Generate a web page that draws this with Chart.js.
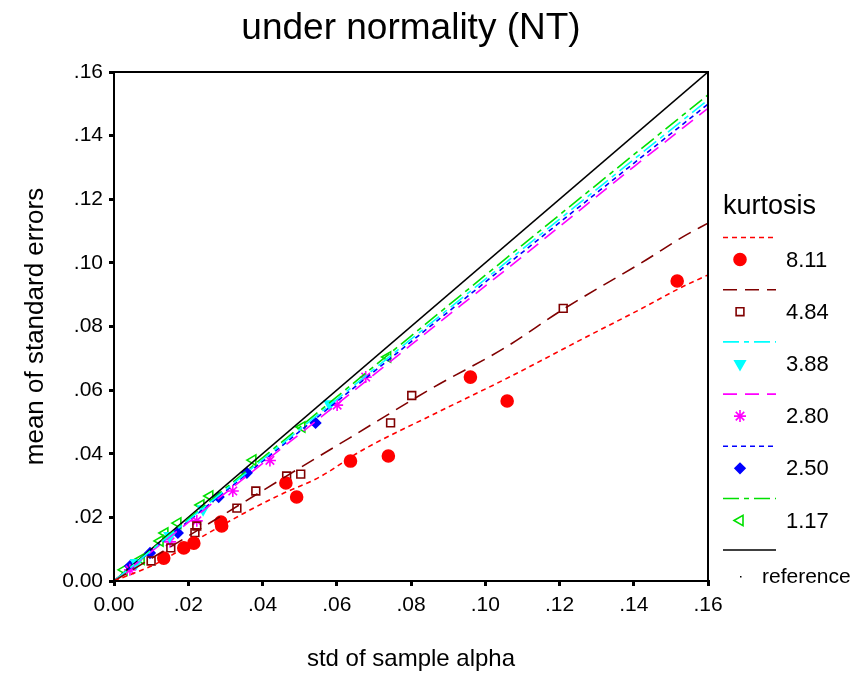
<!DOCTYPE html>
<html>
<head>
<meta charset="utf-8">
<script src="https://cdn.jsdelivr.net/npm/chart.js@4.4.1/dist/chart.umd.min.js"></script>
<style>
  html, body { margin: 0; padding: 0; background: #fff; }
  #wrap { width: 854px; height: 689px; }
</style>
</head>
<body>
<div id="wrap"><canvas id="chart"></canvas></div>
<script>
// DATA
const chartTitle = "under normality (NT)";
const xTitle = "std of sample alpha";
const yTitle = "mean of standard errors";
const legendTitle = "kurtosis";
const kurtLabels = ["8.11", "4.84", "3.88", "2.80", "2.50", "1.17"];
const tickValues = [0, 0.02, 0.04, 0.06, 0.08, 0.10, 0.12, 0.14, 0.16];

// scatter points per kurtosis group
const k811X = [0.0134, 0.0188, 0.0215, 0.0288, 0.0290, 0.0463, 0.0492, 0.0637, 0.0739, 0.0960, 0.1059, 0.1517];
const k811Y = [0.0072, 0.0104, 0.0119, 0.0185, 0.0173, 0.0308, 0.0264, 0.0377, 0.0393, 0.0641, 0.0566, 0.0943];
const k484X = [0.0100, 0.0153, 0.0218, 0.0223, 0.0331, 0.0382, 0.0465, 0.0503, 0.0745, 0.0802, 0.1210];
const k484Y = [0.0063, 0.0104, 0.0152, 0.0173, 0.0229, 0.0283, 0.0330, 0.0336, 0.0497, 0.0583, 0.0857];
const k388X = [0.0060, 0.0150, 0.0240, 0.0581];
const k388Y = [0.0057, 0.0142, 0.0226, 0.0556];
const k280X = [0.0043, 0.0151, 0.0223, 0.0320, 0.0420, 0.0601, 0.0678];
const k280Y = [0.0035, 0.0123, 0.0189, 0.0283, 0.0379, 0.0553, 0.0641];
const k250X = [0.0043, 0.0097, 0.0172, 0.0282, 0.0358, 0.0543];
const k250Y = [0.0047, 0.0088, 0.0151, 0.0264, 0.0340, 0.0497];
const k117X = [0.0027, 0.0073, 0.0124, 0.0137, 0.0172, 0.0234, 0.0258, 0.0374, 0.0506, 0.0737];
const k117Y = [0.0035, 0.0069, 0.0126, 0.0151, 0.0182, 0.0239, 0.0267, 0.0380, 0.0484, 0.0704];

// fitted lines
const fit811X = [0, 0.0118, 0.0231, 0.0366, 0.0446, 0.0554, 0.0670, 0.0868, 0.1065, 0.1272, 0.1414, 0.1530, 0.16];
const fit811Y = [0, 0.0057, 0.0135, 0.0223, 0.0270, 0.0327, 0.0412, 0.0528, 0.0641, 0.0767, 0.0852, 0.0924, 0.0962];
const fit484X = [0, 0.0280, 0.0500, 0.0635, 0.0858, 0.1057, 0.1207, 0.1433, 0.1531, 0.16];
const fit484Y = [0, 0.0198, 0.0355, 0.0450, 0.0607, 0.0736, 0.0852, 0.1009, 0.1081, 0.1125];
const fitX = [0, 0.02, 0.05, 0.08, 0.11, 0.14, 0.16];
const fit388Y = [0, 0.0191, 0.0476, 0.0760, 0.1043, 0.1325, 0.1512];
const fit280Y = [0, 0.0184, 0.0462, 0.0742, 0.1020, 0.1302, 0.1486];
const fit250Y = [0, 0.0188, 0.0470, 0.0752, 0.1033, 0.1313, 0.1499];
const fit117Y = [0, 0.0195, 0.0483, 0.0770, 0.1056, 0.1340, 0.1528];
const refX = [0, 0.16];
const refY = [0, 0.16];

const FONT = "'Liberation Sans', Arial, sans-serif";
Chart.defaults.font.family = FONT;
Chart.defaults.color = "#000";

function pts(xs, ys) {
    return xs.map((x, i) => ({ x: x, y: ys[i] }));
}

// one style per group: line colour, dash, marker
const groups = [
    { color: "#ff0000", dash: [5, 4], fx: fit811X, fy: fit811Y, px: k811X, py: k811Y,
      point: { pointStyle: "circle", radius: 6, bg: "#ff0000", rot: 0 } },
    { color: "#800000", dash: [14, 8], fx: fit484X, fy: fit484Y, px: k484X, py: k484Y,
      point: { pointStyle: "rect", radius: 5.5, bg: "rgba(0,0,0,0)", rot: 0 } },
    { color: "#00ffff", dash: [16, 5, 5, 5], fx: fitX, fy: fit388Y, px: k388X, py: k388Y,
      point: { pointStyle: "triangle", radius: 6, bg: "#00ffff", rot: 180 } },
    { color: "#ff00ff", dash: [14, 8], fx: fitX, fy: fit280Y, px: k280X, py: k280Y,
      point: { pointStyle: "star", radius: 6, bg: "rgba(0,0,0,0)", rot: 0 } },
    { color: "#0000ff", dash: [5, 4], fx: fitX, fy: fit250Y, px: k250X, py: k250Y,
      point: { pointStyle: "rectRot", radius: 5, bg: "#0000ff", rot: 0 } },
    { color: "#00e000", dash: [16, 5, 5, 5], fx: fitX, fy: fit117Y, px: k117X, py: k117Y,
      point: { pointStyle: "triangle", radius: 6, bg: "rgba(0,0,0,0)", rot: 270 } },
];

const datasets = [];
groups.forEach((g, i) => {
    datasets.push({
        label: kurtLabels[i] + " fit",
        data: pts(g.fx, g.fy),
        showLine: true,
        borderColor: g.color,
        borderWidth: 1.6,
        borderDash: g.dash,
        pointRadius: 0,
        cubicInterpolationMode: "monotone",
    });
});
datasets.push({
    label: "reference",
    data: pts(refX, refY),
    showLine: true,
    borderColor: "#000",
    borderWidth: 1.6,
    pointRadius: 0,
});
groups.forEach((g, i) => {
    datasets.push({
        label: kurtLabels[i],
        data: pts(g.px, g.py),
        showLine: false,
        pointStyle: g.point.pointStyle,
        pointRadius: g.point.radius,
        pointRotation: g.point.rot,
        pointBackgroundColor: g.point.bg,
        pointBorderColor: g.color,
        pointBorderWidth: 1.6,
    });
});

function tickText(v) {
    if (Math.abs(v) < 1e-9) return "0.00";
    return "." + Math.round(v * 100).toString().padStart(2, "0");
}

// frame, title and custom legend
const extras = {
    id: "extras",
    afterDraw(chart) {
        const { ctx, chartArea: a } = chart;
        ctx.save();
        ctx.strokeStyle = "#000";
        ctx.lineWidth = 2;
        ctx.strokeRect(a.left, a.top, a.right - a.left, a.bottom - a.top);

        ctx.fillStyle = "#000";
        ctx.textAlign = "center";
        ctx.textBaseline = "middle";
        ctx.font = "37px " + FONT;
        ctx.fillText(chartTitle, (a.left + a.right) / 2, 29);

        // legend
        ctx.textAlign = "left";
        ctx.font = "27px " + FONT;
        ctx.fillText(legendTitle, 723, 207);
        const step = 52.2;
        groups.forEach((g, i) => {
            const ly = 237.5 + i * step;
            const my = 259.5 + i * step;
            ctx.save();
            ctx.strokeStyle = g.color;
            ctx.lineWidth = 1.6;
            ctx.setLineDash(g.dash);
            ctx.beginPath();
            ctx.moveTo(723, ly);
            ctx.lineTo(776, ly);
            ctx.stroke();
            ctx.restore();
            ctx.save();
            ctx.fillStyle = g.point.bg;
            ctx.strokeStyle = g.color;
            ctx.lineWidth = 1.6;
            Chart.helpers.drawPoint(ctx, {
                pointStyle: g.point.pointStyle,
                radius: g.point.radius,
                rotation: g.point.rot,
                borderWidth: 1.6,
            }, 740, my);
            ctx.restore();
            ctx.font = "22px " + FONT;
            ctx.fillText(kurtLabels[i], 786, my + 1);
        });
        ctx.strokeStyle = "#000";
        ctx.lineWidth = 1.6;
        ctx.beginPath();
        ctx.moveTo(723, 550);
        ctx.lineTo(776, 550);
        ctx.stroke();
        ctx.fillRect(740, 576, 1.5, 1.5);
        ctx.font = "21px " + FONT;
        ctx.fillText("reference", 762, 577);
        ctx.restore();
    },
};

const axisCommon = {
    type: "linear",
    min: 0,
    max: 0.16,
    grid: {
        display: true,
        drawOnChartArea: false,
        drawTicks: true,
        tickLength: 5,
        color: "#000",
        lineWidth: 3,
    },
    border: { display: true, color: "#000", width: 2 },
};

const config = {
    type: "scatter",
    data: { datasets: datasets },
    options: {
        responsive: true,
        maintainAspectRatio: false,
        animation: false,
        layout: { padding: { top: 72, right: 146, left: 0, bottom: 0 } },
        plugins: {
            legend: { display: false },
            tooltip: { enabled: false },
        },
        scales: {
            x: Object.assign({}, axisCommon, {
                afterFit: (s) => { s.height = 108; },
                afterBuildTicks: (s) => { s.ticks = tickValues.map(v => ({ value: v })); },
                ticks: { font: { size: 21 }, padding: 7, callback: tickText, maxRotation: 0 },
                title: { display: true, text: xTitle, font: { size: 24 }, padding: { bottom: 15 } },
            }),
            y: Object.assign({}, axisCommon, {
                afterFit: (s) => { s.width = 114; },
                afterBuildTicks: (s) => { s.ticks = tickValues.map(v => ({ value: v })); },
                ticks: { font: { size: 21 }, padding: 6, callback: tickText },
                title: { display: true, text: yTitle, font: { size: 26 }, padding: { top: 20 } },
            }),
        },
    },
    plugins: [extras],
};

const myChart = new Chart(document.getElementById("chart"), config);
</script>
</body>
</html>
